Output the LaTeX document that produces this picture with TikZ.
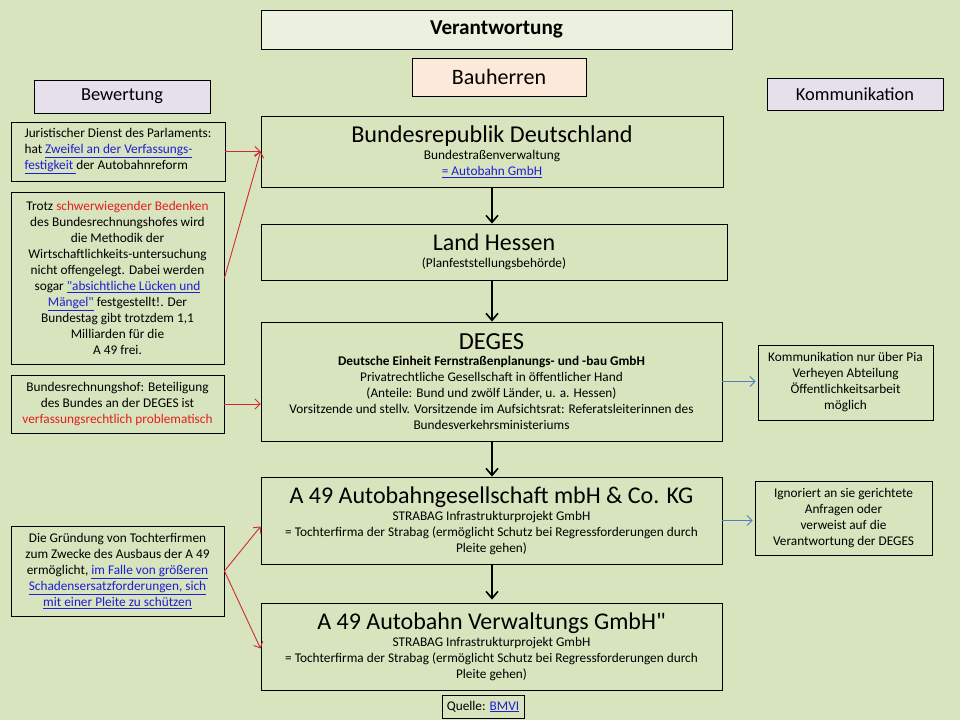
\documentclass[tikz,border=0pt]{standalone}
\usepackage{fontspec}
\setmainfont{Carlito}
\usetikzlibrary{arrows.meta}

\definecolor{bg}{RGB}{215,228,189}
\definecolor{headfill}{RGB}{235,241,222}
\definecolor{bauherrfill}{RGB}{253,233,217}
\definecolor{lilafill}{RGB}{229,224,236}
\definecolor{linkblue}{RGB}{30,30,215}
\definecolor{warnred}{RGB}{230,30,30}
\definecolor{pfeilrot}{RGB}{205,45,45}
\definecolor{pfeilblau}{RGB}{79,129,189}

\newcommand{\lnk}[1]{\textcolor{linkblue}{\underline{#1}}}
\newcommand{\warn}[1]{\textcolor{warnred}{#1}}
\newcommand{\qt}{\XeTeXglyph\XeTeXcharglyph"22\relax}

\begin{document}
\begin{tikzpicture}[x=1pt, y=-1pt,
  box/.style={draw, line width=0.9pt, align=center, inner sep=0pt,
    font=\fontsize{13.3}{16}\selectfont},
  kopf/.style={box, font=\fontsize{18.4}{21}\selectfont, fill=lilafill},
  fluss/.style={line width=2pt, -{Straight Barb[length=7pt, width=12pt, line width=1.6pt]}},
  kritik/.style={line width=0.9pt, pfeilrot, -{Straight Barb[length=5pt, width=10pt]}},
  info/.style={line width=0.9pt, pfeilblau, -{Straight Barb[length=5pt, width=10pt]}}]
\fill[bg] (0,0) rectangle (960,720);
\useasboundingbox (0,0) rectangle (960,720);

% Kopfzeile
\node[box, fill=headfill, minimum width=471pt, minimum height=39pt,
  font=\fontsize{21.2}{24}\selectfont\bfseries] (titel) at (496.5,29.5) {Verantwortung};
\node[box, fill=bauherrfill, minimum width=174pt, minimum height=38pt,
  font=\fontsize{22}{25}\selectfont] (bauherren) at (499,77) {Bauherren};
\node[kopf, minimum width=176pt, minimum height=33pt] (bewertung) at (122,96.5) {Bewertung};
\node[kopf, minimum width=176pt, minimum height=32pt] (kommunikation) at (855,94) {Kommunikation};

% Bauherren
\node[box, minimum width=462pt, minimum height=71pt] (brd) at (492,151.5)
  {{\fontsize{24.2}{27}\selectfont Bundesrepublik Deutschland}\\[1pt]
   Bundestraßenverwaltung\\ \lnk{= Autobahn GmbH}};
\node[box, minimum width=466pt, minimum height=56pt] (hessen) at (494,252)
  {{\fontsize{24}{27}\selectfont Land Hessen}\\[1pt] (Planfeststellungsbehörde)};
\node[box, minimum width=461pt, minimum height=119pt] (deges) at (491.5,381.5)
  {{\fontsize{24.5}{28}\selectfont DEGES}\\[0pt]
   \textbf{Deutsche Einheit  Fernstraßenplanungs-  und  -bau GmbH}\\
   Privatrechtliche Gesellschaft in öffentlicher Hand\\
   (Anteile: Bund und zwölf Länder, u. a. Hessen)\\
   Vorsitzende und stellv. Vorsitzende  im Aufsichtsrat: Referatsleiterinnen des\\
   Bundesverkehrsministeriums};
\node[box, minimum width=461pt, minimum height=87pt] (kg) at (491.5,520.5)
  {{\fontsize{24}{27}\selectfont A 49 Autobahngesellschaft mbH \& Co. KG}\\[1pt]
   STRABAG  Infrastrukturprojekt GmbH\\
   = Tochterfirma der Strabag (ermöglicht Schutz bei Regressforderungen durch\\
   Pleite gehen)};
\node[box, minimum width=461pt, minimum height=87pt] (verwaltung) at (491.5,646.5)
  {{\fontsize{24}{27}\selectfont A 49 Autobahn Verwaltungs GmbH\qt}\\[1pt]
   STRABAG  Infrastrukturprojekt GmbH\\
   = Tochterfirma der Strabag (ermöglicht Schutz bei Regressforderungen durch\\
   Pleite gehen)};
\node[box, minimum width=82pt, minimum height=23pt] (quelle) at (483,706.5)
  {Quelle: \lnk{BMVI}};

% Bewertung
\node[box, align=left, minimum width=214pt, minimum height=59pt] (juristen) at (118,151.5)
  {Juristischer Dienst des Parlaments:\\
   hat \lnk{Zweifel  an der Verfassungs-}\\
   \lnk{festigkeit }der Autobahnreform};
\node[box, minimum width=213pt, minimum height=172pt] (trotz) at (117.5,278)
  {Trotz \warn{schwerwiegender Bedenken}\\
   des Bundesrechnungshofes wird\\
   die Methodik der\\
   Wirtschaftlichkeits-untersuchung\\
   nicht offengelegt.  Dabei werden\\
   sogar \lnk{\qt absichtliche Lücken und}\\
   \lnk{Mängel\qt} festgestellt!. Der\\
   Bundestag gibt trotzdem  1,1\\
   Milliarden für die\\
   A 49 frei.};
\node[box, minimum width=213pt, minimum height=58pt] (brh) at (117.5,404)
  {Bundesrechnungshof: Beteiligung\\
   des Bundes an der DEGES  ist\\
   \warn{verfassungsrechtlich problematisch}};
\node[box, minimum width=213pt, minimum height=90pt] (gruendung) at (117.5,571)
  {Die Gründung von Tochterfirmen\\
   zum Zwecke  des Ausbaus der A 49\\
   ermöglicht, \lnk{im Falle von größeren}\\
   \lnk{Schadensersatzforderungen, sich}\\
   \lnk{mit einer Pleite zu schützen}};

% Kommunikation
\node[box, minimum width=175pt, minimum height=75pt] (pia) at (845.5,382.5)
  {Kommunikation nur über Pia\\
   Verheyen  Abteilung\\
   Öffentlichkeitsarbeit\\
   möglich};
\node[box, minimum width=177pt, minimum height=74pt] (ignoriert) at (843.5,518)
  {Ignoriert an sie gerichtete\\
   Anfragen oder\\
   verweist auf die\\
   Verantwortung  der DEGES};

% Pfeile
\draw[fluss] (brd.south) -- (brd.south |- hessen.north);
\draw[fluss] (brd.south |- hessen.south) -- (brd.south |- deges.north);
\draw[fluss] (brd.south |- deges.south) -- (brd.south |- kg.north);
\draw[fluss] (brd.south |- kg.south) -- ([yshift=3pt]brd.south |- verwaltung.north);

\draw[kritik] (juristen.east) -- (brd.west);
\draw[kritik] (trotz.east) -- (brd.west);
\draw[kritik] (brh.east) -- (brh.east -| deges.west);
\draw[kritik] (gruendung.east) -- ([yshift=-6pt]kg.west);
\draw[kritik] (gruendung.east) -- ([yshift=-2pt]verwaltung.west);

\draw[info] (deges.east) -- ([xshift=-2pt]deges.east -| pia.west);
\draw[info] (kg.east) -- ([xshift=-2pt]kg.east -| ignoriert.west);
\end{tikzpicture}
\end{document}
